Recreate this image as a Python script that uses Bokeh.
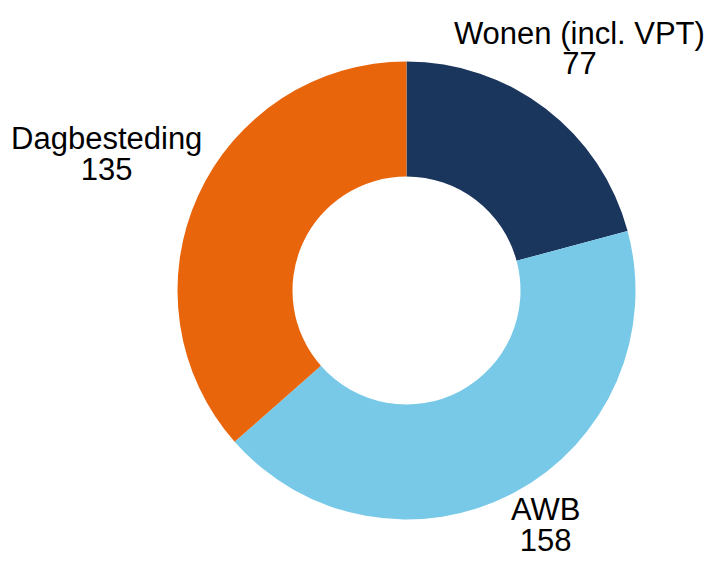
import math
from bokeh.plotting import figure
from bokeh.models import Range1d, ColumnDataSource
from bokeh.core.properties import value
from bokeh.embed import file_html
from bokeh.resources import INLINE

# Data
categories = ["Wonen (incl. VPT)", "AWB", "Dagbesteding"]
values = [77, 158, 135]
colors = ["#1b365d", "#78c9e8", "#e8650c"]

# Layout (pixels, data units == pixels)
label_radius = [304, 286, 329]
label_shift_x = [-12, 4, 0]
label_shift_y = [0, 17, 0]
inner_r = 114
outer_r = 229

total = sum(values)
starts, ends, lx, ly = [], [], [], []
cum = 0
for v, lr, sx, sy in zip(values, label_radius, label_shift_x, label_shift_y):
    a0 = math.pi / 2 - cum / total * 2 * math.pi
    a1 = math.pi / 2 - (cum + v) / total * 2 * math.pi
    starts.append(a0)
    ends.append(a1)
    mid = (a0 + a1) / 2
    lx.append(lr * math.cos(mid) + sx)
    ly.append(lr * math.sin(mid) + sy)
    cum += v

src = ColumnDataSource(dict(start=starts, end=ends, color=colors))

W, H = 705, 557
p = figure(width=W, height=H, output_backend="svg", toolbar_location=None,
           x_range=Range1d(-406, -406 + W), y_range=Range1d(290 - H, 290),
           min_border=0, outline_line_color=None)
p.axis.visible = False
p.grid.visible = False
p.background_fill_color = "white"
p.border_fill_color = "white"

p.annular_wedge(x=0, y=0, inner_radius=inner_r, outer_radius=outer_r,
                start_angle="start", end_angle="end", direction="clock",
                fill_color="color", line_color=None, source=src)

name_src = ColumnDataSource(dict(x=lx, y=[y + 16 for y in ly], t=categories))
val_src = ColumnDataSource(dict(x=lx, y=[y - 14 for y in ly], t=[str(v) for v in values]))

for s in (name_src, val_src):
    p.text(x="x", y="y", text="t", source=s, text_align="center",
           text_baseline="alphabetic", text_font=value("Liberation Sans"),
           text_font_size="31px", text_color="#000000")

open("out.html", "w").write(file_html(p, INLINE))
